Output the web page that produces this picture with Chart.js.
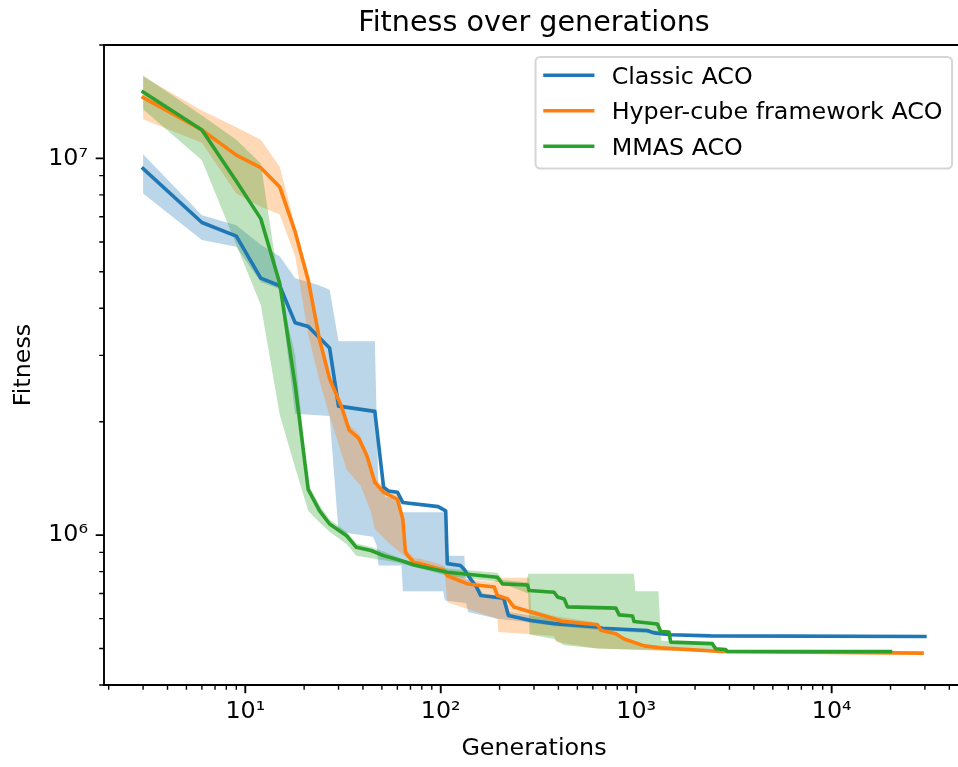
<!DOCTYPE html>
<html><head><meta charset="utf-8">
<script src="https://cdn.jsdelivr.net/npm/chart.js@4.4.1/dist/chart.umd.min.js"></script>
<style>html,body{margin:0;padding:0;background:#fff;overflow:hidden;width:958px;height:767px;}canvas{display:block;}</style>
</head><body>
<canvas id="c" width="964" height="767"></canvas>
<script>
// ---------- data ----------
const seriesNames = ['Classic ACO', 'Hyper-cube framework ACO', 'MMAS ACO'];
const seriesColors = ['#1f77b4', '#ff7f0e', '#2ca02c'];
const bandColors = ['rgba(31,119,180,0.3)', 'rgba(255,127,14,0.3)', 'rgba(44,160,44,0.3)'];

const classicGen = [3,6,9,12,15,18,21,27,30,46,51,54,60,64,97,106,108,126,132,142,152,160,210,222,289,380,634,673,1138,1232,1500,2400,30000];
const classicFit = [9.4e6,6.76e6,6.22e6,4.81e6,4.59e6,3.66e6,3.58e6,3.14e6,2.2e6,2.13e6,1.34e6,1.31e6,1.30e6,1.22e6,1.19e6,1.16e6,8.4e5,8.3e5,8.1e5,7.65e5,7.3e5,6.91e5,6.8e5,6.12e5,5.93e5,5.82e5,5.70e5,5.66e5,5.58e5,5.5e5,5.44e5,5.4e5,5.38e5];
const classicHiGen = [3,6,9,12,15,18,21,24,27,30,46,48,51,52,62,63,104,106,132,134,150,165,200,215,222,360,630,670,1130,1500,2400,30000];
const classicHiFit = [1.025e7,7.06e6,6.65e6,5.9e6,5.5e6,4.81e6,4.7e6,4.6e6,4.48e6,3.27e6,3.27e6,1.32e6,1.35e6,1.26e6,1.26e6,1.15e6,1.15e6,8.82e5,8.82e5,7.65e5,7.5e5,7.0e5,6.9e5,6.8e5,6.25e5,6.0e5,5.8e5,5.7e5,5.62e5,5.48e5,5.42e5,5.42e5];
const classicLoGen = [3,6,9,12,15,18,27,30,45,47,48,63,64,103,105,135,138,195,260,400,700,1200,2400,30000];
const classicLoFit = [8.07e6,6.07e6,5.83e6,4.7e6,4.5e6,2.1e6,2.07e6,1.02e6,9.9e5,9.4e5,8.3e5,8.3e5,7.1e5,7.1e5,6.7e5,6.6e5,6.25e5,6.0e5,5.9e5,5.72e5,5.58e5,5.48e5,5.36e5,5.34e5];

const hyperGen = [3,6,9,12,15,18,21,24,27,31,34,38,42,46,51,60,64,66,68,73,79,104,108,113,137,188,195,220,237,289,380,420,634,660,787,868,1100,1334,2720,29000];
const hyperFit = [1.45e7,1.19e7,1.02e7,9.45e6,8.4e6,6.38e6,4.75e6,3.30e6,2.6e6,2.2e6,1.9e6,1.81e6,1.62e6,1.38e6,1.30e6,1.245e6,1.1e6,9.0e5,8.8e5,8.46e5,8.4e5,8.05e5,7.8e5,7.73e5,7.42e5,7.28e5,6.91e5,6.77e5,6.44e5,6.25e5,6.0e5,5.9e5,5.78e5,5.59e5,5.47e5,5.3e5,5.08e5,5.02e5,4.91e5,4.86e5];
const hyperHiGen = [3,6,9,12,15,18,21,24,27,31,34,38,42,46,51,60,64,66,68,73,79,104,108,113,137,188,193,285,290,380,634,660,787,868,1100,1334,2720,29000];
const hyperHiFit = [1.65e7,1.34e7,1.21e7,1.12e7,9.5e6,6.6e6,4.85e6,3.4e6,2.68e6,2.27e6,1.96e6,1.86e6,1.67e6,1.42e6,1.34e6,1.28e6,1.13e6,9.3e5,9.05e5,8.7e5,8.65e5,8.3e5,8.0e5,7.95e5,7.65e5,7.5e5,7.7e5,7.7e5,6.35e5,6.1e5,5.85e5,5.65e5,5.52e5,5.35e5,5.12e5,5.05e5,4.94e5,4.89e5];
const hyperLoGen = [3,6,9,12,15,18,21,24,27,33,39,44,46,54,65,105,108,195,197,380,390,630,1340,29000];
const hyperLoFit = [1.27e7,1.1e7,8.07e6,7.44e6,7.1e6,5.5e6,3.4e6,2.56e6,2.07e6,1.49e6,1.35e6,1.15e6,1.04e6,9.56e5,8.8e5,7.9e5,6.63e5,6.0e5,5.53e5,5.4e5,5.2e5,5.0e5,4.93e5,4.82e5];

const mmasGen = [3,6,9,12,15,18,21,24,27,33,37,44,51,63,73,108,195,207,278,283,380,396,428,445,787,818,958,975,1284,1334,1472,1500,2453,2550,2870,2920,20000];
const mmasFit = [1.50e7,1.19e7,8.7e6,6.92e6,4.66e6,2.5e6,1.32e6,1.16e6,1.07e6,9.96e5,9.28e5,9.1e5,8.82e5,8.55e5,8.33e5,7.97e5,7.73e5,7.42e5,7.37e5,7.13e5,7.05e5,6.85e5,6.77e5,6.45e5,6.4e5,6.14e5,6.1e5,5.9e5,5.81e5,5.55e5,5.53e5,5.2e5,5.15e5,4.99e5,4.97e5,4.91e5,4.91e5];
const mmasHiGen = [3,6,9,12,15,18,21,24,27,33,37,44,51,65,108,195,207,275,280,974,990,1300,1340,1500,2450,2550,2920,20000];
const mmasHiFit = [1.66e7,1.3e7,1.12e7,9.7e6,4.5e6,3.0e6,1.36e6,1.2e6,1.1e6,1.02e6,9.5e5,9.3e5,9.05e5,8.6e5,8.15e5,7.95e5,7.6e5,7.5e5,7.9e5,7.9e5,7.1e5,7.1e5,5.25e5,5.22e5,5.18e5,5.0e5,4.93e5,4.93e5];
const mmasLoGen = [3,6,9,12,15,18,21,24,27,33,37,60,108,200,280,285,380,428,634,1340,20000];
const mmasLoFit = [1.35e7,9.88e6,5.9e6,4.08e6,2.09e6,1.51e6,1.16e6,1.08e6,1.02e6,9.47e5,8.82e5,8.46e5,7.8e5,7.5e5,7.0e5,5.45e5,5.3e5,5.1e5,5.0e5,4.95e5,4.88e5];

const chartTitle = 'Fitness over generations';
const xAxisTitle = 'Generations';
const yAxisTitle = 'Fitness';
const xMajorTicks = [10, 100, 1000, 10000];
const xTickLabels = ['10\u00B9', '10\u00B2', '10\u00B3', '10\u2074'];
const xMinorTicks = [2,3,4,5,6,7,8,9,20,30,40,50,60,70,80,90,200,300,400,500,600,700,800,900,2000,3000,4000,5000,6000,7000,8000,9000,20000,30000,40000];
const yMajorTicks = [1e6, 1e7];
const yTickLabels = ['10\u2076', '10\u2077'];
const yMinorTicks = [4e5,5e5,6e5,7e5,8e5,9e5,2e6,3e6,4e6,5e6,6e6,7e6,8e6,9e6,2e7];

// ---------- chart ----------
const FONT = 'DejaVu Sans';
const FS = 23.8;
const pts = (xs, ys) => xs.map((x, i) => ({x: x, y: ys[i]}));

function lineSet(i, xs, ys, order) {
  return {label: seriesNames[i], data: pts(xs, ys), borderColor: seriesColors[i], backgroundColor: seriesColors[i],
    borderWidth: 3.6, pointRadius: 0, pointHoverRadius: 0, fill: false, tension: 0, order: order,
    borderJoinStyle: 'round', borderCapStyle: 'square'};
}
function bandHi(i, xs, ys, order) {
  return {label: '_band', data: pts(xs, ys), borderColor: 'rgba(0,0,0,0)', borderWidth: 0, pointRadius: 0,
    pointHoverRadius: 0, fill: '+1', backgroundColor: bandColors[i], tension: 0, order: order};
}
function bandLo(xs, ys, order) {
  return {label: '_band', data: pts(xs, ys), borderColor: 'rgba(0,0,0,0)', borderWidth: 0, pointRadius: 0,
    pointHoverRadius: 0, fill: false, backgroundColor: 'rgba(0,0,0,0)', tension: 0, order: order};
}

const decor = {
  id: 'decor',
  afterDatasetsDraw(chart) {
    const ctx = chart.ctx, a = chart.chartArea;
    const xs = chart.scales.x, ys = chart.scales.y;
    ctx.save();
    ctx.strokeStyle = '#000';
    ctx.lineWidth = 1.9; ctx.lineCap = 'square'; ctx.lineJoin = 'miter';
    ctx.beginPath();
    ctx.moveTo(a.right, a.top); ctx.lineTo(a.left, a.top); ctx.lineTo(a.left, a.bottom); ctx.lineTo(a.right, a.bottom);
    ctx.stroke();
    ctx.lineCap = 'butt';
    const tick = (vals, len, w, horiz) => {
      ctx.lineWidth = w; ctx.beginPath();
      vals.forEach(v => {
        if (horiz) { const p = xs.getPixelForValue(v); ctx.moveTo(p, a.bottom); ctx.lineTo(p, a.bottom + len); }
        else { const p = ys.getPixelForValue(v); ctx.moveTo(a.left, p); ctx.lineTo(a.left - len, p); }
      });
      ctx.stroke();
    };
    tick(xMajorTicks, 8.3, 1.9, true);
    tick(xMinorTicks, 4.8, 1.4, true);
    tick(yMajorTicks, 8.3, 1.9, false);
    tick(yMinorTicks, 4.8, 1.4, false);
    ctx.restore();
  },
  afterDraw(chart) {
    const ctx = chart.ctx, a = chart.chartArea;
    ctx.save();
    ctx.fillStyle = '#000';
    ctx.font = '28.6px "' + FONT + '"';
    ctx.textAlign = 'center'; ctx.textBaseline = 'alphabetic';
    ctx.fillText(chartTitle, (a.left + a.right) / 2, a.top - 14.3);
    ctx.font = FS + 'px "' + FONT + '"';
    const names = chart.data.datasets.filter(d => d.label !== '_band');
    let maxW = 0; names.forEach(d => { maxW = Math.max(maxW, ctx.measureText(d.label).width); });
    const pad = 9.5, hl = 47.6, htp = 19;
    const w = pad * 2 + hl + htp + maxW, h = 111.7;
    const x0 = a.right - 11.9 - w, y0 = a.top + 11.9;
    const r = 4.8;
    ctx.beginPath();
    ctx.moveTo(x0 + r, y0); ctx.lineTo(x0 + w - r, y0); ctx.arcTo(x0 + w, y0, x0 + w, y0 + r, r);
    ctx.lineTo(x0 + w, y0 + h - r); ctx.arcTo(x0 + w, y0 + h, x0 + w - r, y0 + h, r);
    ctx.lineTo(x0 + r, y0 + h); ctx.arcTo(x0, y0 + h, x0, y0 + h - r, r);
    ctx.lineTo(x0, y0 + r); ctx.arcTo(x0, y0, x0 + r, y0, r); ctx.closePath();
    ctx.fillStyle = 'rgba(255,255,255,0.8)'; ctx.fill();
    ctx.lineWidth = 2; ctx.strokeStyle = 'rgba(204,204,204,0.8)'; ctx.stroke();
    names.forEach((d, i) => {
      const yy = y0 + 18.4 + i * 35.5;
      ctx.strokeStyle = d.borderColor; ctx.lineWidth = 3.6; ctx.lineCap = 'square';
      ctx.beginPath(); ctx.moveTo(x0 + pad, yy); ctx.lineTo(x0 + pad + hl, yy); ctx.stroke();
      ctx.fillStyle = '#000'; ctx.textAlign = 'left'; ctx.textBaseline = 'alphabetic';
      ctx.fillText(d.label, x0 + pad + hl + htp, yy + 0.364 * FS);
    });
    ctx.restore();
  }
};

new Chart(document.getElementById('c'), {
  type: 'line',
  data: {
    datasets: [
      lineSet(0, classicGen, classicFit, 2),
      lineSet(1, hyperGen, hyperFit, 1),
      lineSet(2, mmasGen, mmasFit, 0),
      bandHi(0, classicHiGen, classicHiFit, 5),
      bandLo(classicLoGen, classicLoFit, 5),
      bandHi(1, hyperHiGen, hyperHiFit, 4),
      bandLo(hyperLoGen, hyperLoFit, 4),
      bandHi(2, mmasHiGen, mmasHiFit, 3),
      bandLo(mmasLoGen, mmasLoFit, 3)
    ]
  },
  options: {
    responsive: false, animation: false, devicePixelRatio: 1,
    layout: {padding: {top: 45, left: 0, right: 0, bottom: 0}},
    plugins: {legend: {display: false}, title: {display: false}, tooltip: {enabled: false}},
    events: [],
    scales: {
      x: {
        type: 'logarithmic', position: 'bottom', min: 1.893, max: 47544,
        afterBuildTicks: s => { s.ticks = xMajorTicks.map(v => ({value: v})); },
        afterFit: s => { s.height = 82; },
        grid: {display: false, drawTicks: false}, border: {display: false},
        ticks: {autoSkip: false, maxRotation: 0, minRotation: 0, padding: 13, color: '#000',
          font: {family: FONT, size: FS},
          callback: v => { const i = xMajorTicks.indexOf(v); return i >= 0 ? xTickLabels[i] : ''; }},
        title: {display: true, text: xAxisTitle, color: '#000', font: {family: FONT, size: FS}, padding: {top: 0, bottom: 4}}
      },
      y: {
        type: 'logarithmic', position: 'left', min: 4.0e5, max: 2.0e7,
        afterBuildTicks: s => { s.ticks = yMajorTicks.map(v => ({value: v})); },
        afterFit: s => { s.width = 104; },
        grid: {display: false, drawTicks: false}, border: {display: false},
        ticks: {autoSkip: false, padding: 16, color: '#000', font: {family: FONT, size: FS},
          callback: v => { const i = yMajorTicks.indexOf(v); return i >= 0 ? yTickLabels[i] : ''; }},
        title: {display: true, text: yAxisTitle, color: '#000', font: {family: FONT, size: FS}, padding: {top: 10, bottom: 0}}
      }
    }
  },
  plugins: [decor]
});
</script>
</body></html>
